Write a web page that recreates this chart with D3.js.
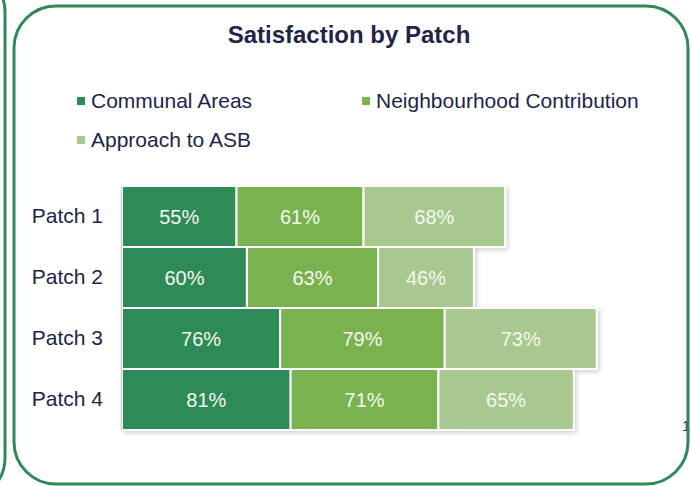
<!DOCTYPE html>
<html>
<head>
<meta charset="utf-8">
<script src="https://cdn.jsdelivr.net/npm/d3@7"></script>
<style>
  body { margin: 0; background: #fff; }
  svg { display: block; font-family: "Liberation Sans", Arial, sans-serif; }
</style>
</head>
<body>
<svg id="chart" width="691" height="486"></svg>
<script>
// Data
const patches = ["Patch 1", "Patch 2", "Patch 3", "Patch 4"];
const seriesNames = ["Communal Areas", "Neighbourhood Contribution", "Approach to ASB"];
const communal = [55, 60, 76, 81];
const neighbourhood = [61, 63, 79, 71];
const asb = [68, 46, 73, 65];
const colours = ["#2d8a57", "#7ab24f", "#a8c88f"];

const svg = d3.select("#chart");

// drop shadow for the bars
const defs = svg.append("defs");
defs.append("filter")
    .attr("id", "shadow")
    .attr("x", "-5%").attr("y", "-5%")
    .attr("width", "110%").attr("height", "115%")
  .append("feDropShadow")
    .attr("dx", 2).attr("dy", 2)
    .attr("stdDeviation", 2)
    .attr("flood-color", "#000")
    .attr("flood-opacity", 0.18);

// neighbouring panel edge on the left
svg.append("rect")
    .attr("x", -400).attr("y", -30)
    .attr("width", 405).attr("height", 530)
    .attr("rx", 42)
    .attr("fill", "none")
    .attr("stroke", "#2f8a58")
    .attr("stroke-width", 3);

// main panel background
svg.append("rect")
    .attr("x", 14).attr("y", 6)
    .attr("width", 674).attr("height", 478)
    .attr("rx", 42)
    .attr("fill", "#fff");

// page number peeking out on the right
svg.append("text")
    .attr("x", 682).attr("y", 431)
    .attr("font-size", 15)
    .attr("fill", "#1e2447")
    .text("1");

// main panel frame
svg.append("rect")
    .attr("x", 14).attr("y", 6)
    .attr("width", 674).attr("height", 478)
    .attr("rx", 42)
    .attr("fill", "none")
    .attr("stroke", "#2f8a58")
    .attr("stroke-width", 3);

svg.append("text")
    .attr("x", 349).attr("y", 43)
    .attr("text-anchor", "middle")
    .attr("font-size", 24)
    .attr("font-weight", "bold")
    .attr("fill", "#1f2547")
    .text("Satisfaction by Patch");

// legend
const legendPos = [[77, 108], [362, 108], [77, 147]];
const legend = svg.append("g");
seriesNames.forEach((name, i) => {
    const [lx, ly] = legendPos[i];
    legend.append("rect")
        .attr("x", lx).attr("y", ly - 11)
        .attr("width", 8).attr("height", 8)
        .attr("fill", colours[i]);
    legend.append("text")
        .attr("x", lx + 14).attr("y", ly)
        .attr("font-size", 21)
        .attr("fill", "#1e2447")
        .text(name);
});

// stack the three series per patch
const rows = patches.map((p, i) => ({
    patch: p,
    values: [communal[i], neighbourhood[i], asb[i]]
}));

const x = d3.scaleLinear()
    .domain([0, 100])
    .range([122, 122 + 208.2]);

const y = d3.scaleBand()
    .domain(patches)
    .range([186, 430])
    .padding(0);

const barsG = svg.append("g").attr("filter", "url(#shadow)");

rows.forEach(r => {
    let start = 0;
    r.values.forEach((v, k) => {
        const x0 = x(start), x1 = x(start + v);
        barsG.append("rect")
            .attr("x", x0)
            .attr("y", y(r.patch))
            .attr("width", x1 - x0)
            .attr("height", y.bandwidth())
            .attr("fill", colours[k])
            .attr("stroke", "#fff")
            .attr("stroke-width", 2);
        svg.append("text")
            .attr("x", (x0 + x1) / 2)
            .attr("y", y(r.patch) + y.bandwidth() / 2 + 7)
            .attr("text-anchor", "middle")
            .attr("font-size", 20)
            .attr("fill", "#f4f8f0")
            .text(v + "%");
        start += v;
    });
});

// category axis
const axis = svg.append("g")
    .attr("transform", "translate(121,0)")
    .call(d3.axisLeft(y).tickSize(0).tickPadding(18));
axis.select(".domain")
    .attr("stroke", "#ccd3dc")
    .attr("stroke-width", 1.5);
axis.selectAll("text")
    .attr("font-size", 21)
    .attr("font-family", "'Liberation Sans', Arial, sans-serif")
    .attr("fill", "#1e2447");
</script>
</body>
</html>
